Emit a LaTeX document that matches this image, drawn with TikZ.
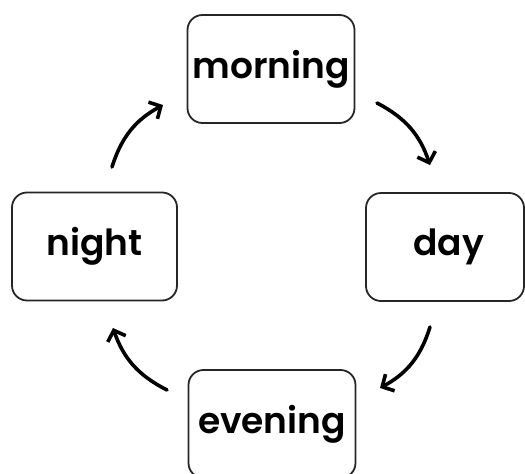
\documentclass[tikz,border=0pt]{standalone}
\usepackage{fontspec}
\setmainfont{Poppins}[UprightFont=* SemiBold, BoldFont=* Bold]
\usetikzlibrary{arrows.meta}
\begin{document}
\begin{tikzpicture}[x=1pt,y=-1pt,
  box/.style={draw=black!85, line width=1.8pt, rounded corners=15pt,
    minimum width=167pt, minimum height=108pt, inner sep=0pt,
    font=\fontsize{36}{40}\selectfont, text=black},
  cyc/.style={line width=3.6pt, line cap=round,
    -{Straight Barb[length=9pt,width=19pt,line width=3.6pt]}, bend left=22}]
\useasboundingbox (0,0) rectangle (525,474);
\clip (0,0) rectangle (525,474);
\node[box] (morning) at (271,69) {morning};
\node[box, minimum width=158pt] (day) at (445,247) {\hspace*{7pt}day};
\node[box, minimum width=165pt] (night) at (94.5,246.5) {night};
\node[box] (evening) at (272,424) {evening};
\coordinate (a1s) at (112,167); \coordinate (a1e) at (163,105);
\coordinate (a2s) at (377,103); \coordinate (a2e) at (430,165);
\coordinate (a3s) at (430,327); \coordinate (a3e) at (380,388);
\coordinate (a4s) at (167,390); \coordinate (a4e) at (113,328);
\draw[cyc] (a1s) to (a1e);
\draw[cyc] (a2s) to (a2e);
\draw[cyc] (a3s) to (a3e);
\draw[cyc] (a4s) to (a4e);
\end{tikzpicture}
\end{document}
